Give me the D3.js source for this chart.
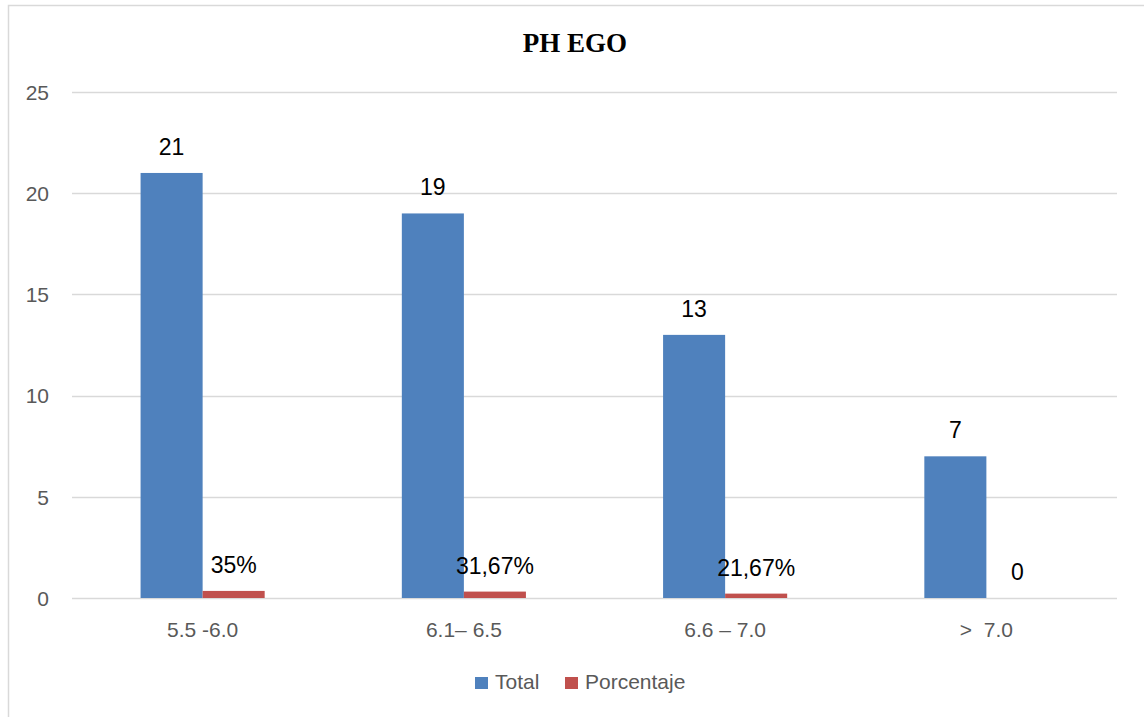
<!DOCTYPE html>
<html>
<head>
<meta charset="utf-8">
<script src="https://cdn.jsdelivr.net/npm/d3@7"></script>
<style>
  html, body { margin: 0; padding: 0; background: #fff; }
  svg { display: block; }
  text { white-space: pre; }
</style>
</head>
<body>
<svg id="chart" width="1144" height="717"></svg>
<script>
// pH ranges of the samples
const categories = ["5.5 -6.0", "6.1\u2013 6.5", "6.6 \u2013 7.0", ">  7.0"];
const seriesNames = ["Total", "Porcentaje"];
const totalValues = [21, 19, 13, 7];
const percentValues = [0.35, 0.3167, 0.2167, 0];
const totalLabels = ["21", "19", "13", "7"];
const percentLabels = ["35%", "31,67%", "21,67%", "0"];
const yTicks = [0, 5, 10, 15, 20, 25];
const colors = ["#4F81BD", "#C0504D"];

const svg = d3.select("#chart");
const W = 1144, H = 717;
const plot = { left: 72, right: 1117, top: 92, bottom: 598 };
const sans = "'Liberation Sans', Arial, sans-serif";

// chart frame
svg.append("path")
  .attr("d", `M8.5,${H} L8.5,5.5 L${W},5.5`)
  .attr("fill", "none").attr("stroke", "#D9D9D9").attr("stroke-width", 1.5);

const y = d3.scaleLinear().domain([0, 25]).range([plot.bottom, plot.top]);
const x0 = d3.scaleBand().domain(categories).range([plot.left, plot.right])
  .paddingInner(0.525).paddingOuter(0.2625);
const x1 = d3.scaleBand().domain(seriesNames).range([0, x0.bandwidth()]);

// gridlines
svg.append("g").selectAll("line").data(yTicks).join("line")
  .attr("x1", plot.left).attr("x2", plot.right)
  .attr("y1", d => Math.round(y(d)) + 0.5).attr("y2", d => Math.round(y(d)) + 0.5)
  .attr("stroke", "#D9D9D9").attr("stroke-width", 1.3);

// y axis labels
const yAxis = d3.axisLeft(y).tickValues(yTicks).tickSize(0).tickPadding(0);
const gy = svg.append("g").attr("transform", "translate(49,0)").call(yAxis);
gy.select(".domain").remove();
gy.selectAll("text").attr("font-family", sans).attr("font-size", 21)
  .attr("fill", "#595959").attr("dy", "0.35em");

// x axis labels
const xAxis = d3.axisBottom(x0).tickSize(0).tickPadding(0);
const gx = svg.append("g").attr("transform", `translate(0,${plot.bottom})`).call(xAxis);
gx.select(".domain").remove();
gx.selectAll("text").attr("font-family", sans).attr("font-size", 21)
  .attr("fill", "#595959").attr("dy", null).attr("y", 39);

// bars
const rows = categories.map((c, i) => ({
  cat: c,
  vals: [
    { s: seriesNames[0], v: totalValues[i], label: totalLabels[i] },
    { s: seriesNames[1], v: percentValues[i], label: percentLabels[i] }
  ]
}));

const groups = svg.append("g").selectAll("g").data(rows).join("g")
  .attr("transform", d => `translate(${x0(d.cat)},0)`);

groups.selectAll("rect").data(d => d.vals).join("rect")
  .attr("x", d => x1(d.s))
  .attr("width", x1.bandwidth())
  .attr("y", d => y(d.v))
  .attr("height", d => y(0) - y(d.v))
  .attr("fill", (d, i) => colors[i]);

groups.selectAll("text").data(d => d.vals).join("text")
  .attr("x", d => x1(d.s) + x1.bandwidth() / 2)
  .attr("y", d => y(d.v) - 18)
  .attr("text-anchor", "middle")
  .attr("font-family", sans).attr("font-size", 23)
  .attr("fill", "#000")
  .text(d => d.label);

// title
svg.append("text")
  .attr("x", 575).attr("y", 52)
  .attr("text-anchor", "middle")
  .attr("font-family", "'Liberation Serif', 'Times New Roman', serif")
  .attr("font-weight", "bold").attr("font-size", 27)
  .text("PH EGO");

// legend
const legendItems = [
  { name: seriesNames[0], color: colors[0], x: 475 },
  { name: seriesNames[1], color: colors[1], x: 565 }
];
const lg = svg.append("g").selectAll("g").data(legendItems).join("g")
  .attr("transform", d => `translate(${d.x},677)`);
lg.append("rect").attr("width", 13).attr("height", 12).attr("fill", d => d.color);
lg.append("text").attr("x", 20).attr("y", 12)
  .attr("font-family", sans).attr("font-size", 21).attr("fill", "#595959")
  .text(d => d.name);
</script>
</body>
</html>
